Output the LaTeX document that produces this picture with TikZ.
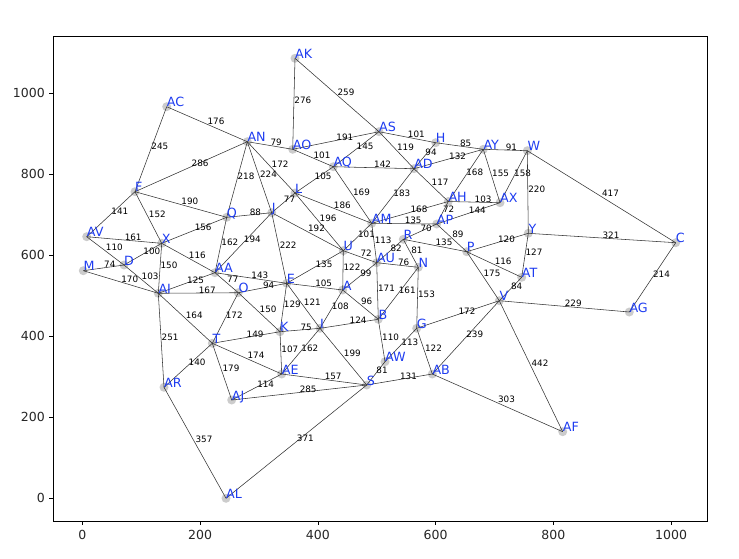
\documentclass[tikz,border=0pt]{standalone}
\usepackage{fontspec}
\setmainfont{DejaVu Sans}
\definecolor{lblue}{RGB}{30,60,240}
\definecolor{ngray}{RGB}{204,204,204}
\begin{document}
\begin{tikzpicture}[x=1pt,y=-1pt,
  vert/.style={circle,fill=ngray,draw=none,inner sep=0pt,minimum size=9pt},
  edge/.style={draw=black!80,line width=0.55pt},
  elab/.style={pos=0.5,anchor=base west,inner sep=0pt,xshift=0.3pt,text=black,font=\fontsize{8.8}{10}\selectfont},
  nlab/.style={anchor=base west,inner sep=0pt,text=lblue,font=\fontsize{12.7}{14}\selectfont},
  ticklab/.style={inner sep=0pt,text=black!85,font=\fontsize{12.5}{14}\selectfont},
  frame/.style={draw=black,line width=0.8pt}]
\useasboundingbox (0,0) rectangle (739,558);
% axes
\draw[frame] (53,36) rectangle (707,521);
\foreach \v/\px in {0/82.4,200/200.1,400/317.9,600/435.6,800/553.4,1000/671.1}{
  \draw[line width=0.8pt] (\px,521) -- (\px,525.4);
  \node[ticklab,anchor=north] at (\px,530) {\v};
}
\foreach \v/\py in {0/498,200/417,400/336,600/255,800/174,1000/93}{
  \draw[line width=0.8pt] (53,\py) -- (48.6,\py);
  \node[ticklab,anchor=east] at (45,\py) {\v};
}
% vertices
\node[vert] (AK) at (295,58.3) {};
\node[vert] (AC) at (166.7,106.7) {};
\node[vert] (AN) at (247.3,141.7) {};
\node[vert] (F) at (135,191.7) {};
\node[vert] (AO) at (292.7,149.3) {};
\node[vert] (AS) at (379,131.7) {};
\node[vert] (H) at (435.7,142.7) {};
\node[vert] (AY) at (483.3,149.3) {};
\node[vert] (AQ) at (333.3,166.7) {};
\node[vert] (AD) at (414,168.7) {};
\node[vert] (L) at (295,193) {};
\node[vert] (AH) at (448.3,201.5) {};
\node[vert] (W) at (527.3,150.7) {};
\node[vert] (AX) at (500,202.7) {};
\node[vert] (Y) at (528.3,233.3) {};
\node[vert] (C) at (675.7,242.7) {};
\node[vert] (AG) at (629.3,312) {};
\node[vert] (AT) at (521.7,277.3) {};
\node[vert] (V) at (499.3,300.7) {};
\node[vert] (AF) at (562.7,431.7) {};
\node[vert] (AV) at (86.7,236.7) {};
\node[vert] (X) at (161.7,243.3) {};
\node[vert] (D) at (124,265) {};
\node[vert] (M) at (83.3,270.7) {};
\node[vert] (AI) at (158.3,293.3) {};
\node[vert] (Q) at (226.7,217.3) {};
\node[vert] (J) at (271.7,212.7) {};
\node[vert] (AA) at (215,272.7) {};
\node[vert] (O) at (238.3,292.7) {};
\node[vert] (T) at (212.3,343.3) {};
\node[vert] (E) at (286.7,283.3) {};
\node[vert] (AM) at (371.7,223.3) {};
\node[vert] (AP) at (436.7,224) {};
\node[vert] (R) at (403.3,239.3) {};
\node[vert] (P) at (466.7,251.7) {};
\node[vert] (U) at (343.3,250.7) {};
\node[vert] (AU) at (376.7,262.7) {};
\node[vert] (N) at (418.3,267.3) {};
\node[vert] (A) at (342.7,290) {};
\node[vert] (B) at (378.3,319.3) {};
\node[vert] (G) at (416.7,328.3) {};
\node[vert] (I) at (320,328.3) {};
\node[vert] (K) at (280,331.7) {};
\node[vert] (AW) at (385,361.7) {};
\node[vert] (AE) at (281.7,374) {};
\node[vert] (S) at (366.7,385) {};
\node[vert] (AB) at (432.3,374) {};
\node[vert] (AL) at (226,498.3) {};
\node[vert] (AR) at (164,387.3) {};
\node[vert] (AJ) at (231.7,400) {};
% edges
\foreach \a/\b/\w in {AC/AN/176,AC/F/245,F/AN/286,AN/AO/79,AN/L/172,AN/J/224,AN/Q/218,F/Q/190,F/AV/141,F/X/152,
  AK/AO/276,AK/AS/259,AO/AS/191,AO/AQ/101,AS/H/101,AS/AQ/145,AS/AD/119,AD/AH/117,H/AY/85,H/AD/94,
  AD/AY/132,AQ/AD/142,AQ/L/105,AQ/AM/169,AD/AM/183,AY/AH/168,AH/AX/103,AY/AX/155,AY/W/91,W/AX/158,
  W/Y/220,W/C/417,Y/C/321,AP/AX/144,J/L/77,L/AM/186,AM/AH/168,AH/AP/72,AM/AP/135,AP/R/70,
  AP/P/89,R/P/135,R/AU/82,R/N/81,AU/N/76,AM/AU/113,AM/U/101,L/U/196,J/U/192,J/E/222,
  U/AU/72,U/A/122,U/E/135,AU/A/99,AU/B/171,N/B/161,N/G/153,E/A/105,O/E/94,AA/E/143,
  E/K/129,E/I/121,A/I/108,A/B/96,I/B/124,K/I/75,G/V/172,V/AB/239,P/V/175,P/AT/116,
  P/Y/120,Y/AT/127,AT/V/84,V/AG/229,C/AG/214,V/AF/442,AB/AF/303,AV/X/161,AV/D/110,D/AI/103,
  M/D/74,M/AI/170,D/X/100,X/AI/150,X/Q/156,X/AA/116,AA/O/77,O/K/150,Q/J/88,Q/AA/162,
  J/AA/194,AA/AI/125,AI/O/167,AI/T/164,O/T/172,AI/AR/251,T/K/149,T/AE/174,T/AR/140,T/AJ/179,
  AJ/AE/114,AJ/S/285,AE/S/157,K/AE/107,I/AE/162,I/S/199,B/AW/110,G/AW/113,AW/S/81,G/AB/122,
  S/AB/131,S/AL/371,AR/AL/357}{
  \draw[edge] (\a.center) -- node[elab]{\w} (\b.center);
}
% vertex labels
\foreach \n in {A,B,C,D,E,F,G,H,I,J,K,L,M,N,O,P,Q,R,S,T,U,V,W,X,Y,
  AA,AB,AC,AD,AE,AF,AG,AH,AI,AJ,AK,AL,AM,AN,AO,AP,AQ,AR,AS,AT,AU,AV,AW,AX,AY}{
  \node[nlab] (lab\n) at (\n.center) {\n};
}
\end{tikzpicture}
\end{document}
